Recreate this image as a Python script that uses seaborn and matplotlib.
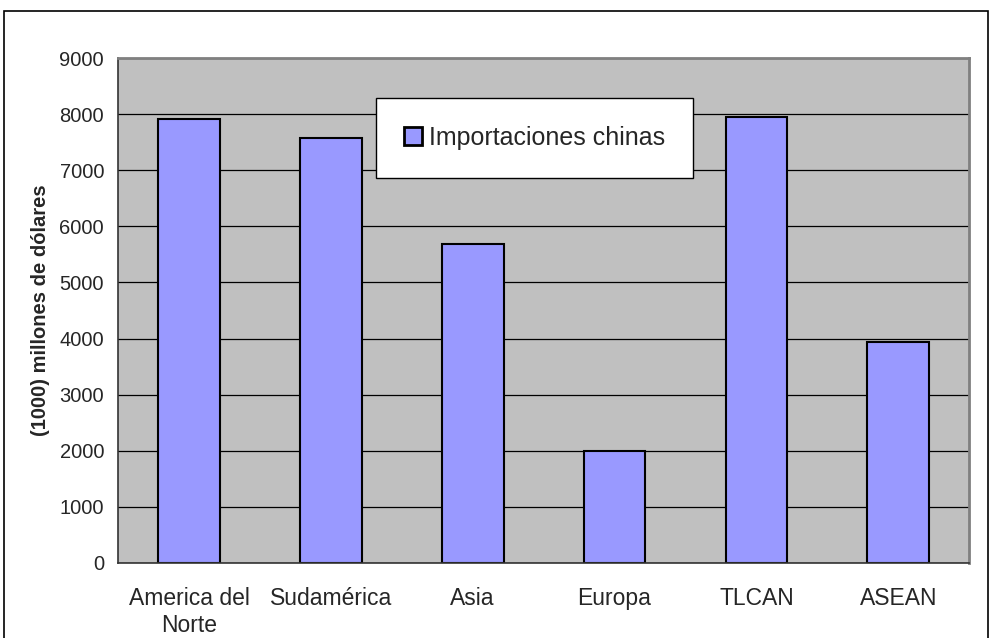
import seaborn as sns
import matplotlib.pyplot as plt
import pandas as pd
from matplotlib.patches import Rectangle

regiones = ['America del\nNorte', 'Sudamérica', 'Asia', 'Europa', 'TLCAN', 'ASEAN']
importaciones = [7905, 7567, 5680, 2000, 7952, 3930]
serie = 'Importaciones chinas'

df = pd.DataFrame({'region': regiones, 'valor': importaciones, 'serie': serie})

sns.set_style('white')
plt.rcParams['font.family'] = ['Liberation Sans', 'DejaVu Sans']

fig = plt.figure(figsize=(9.9, 6.38), dpi=100)
ax = fig.add_axes([0.1192, 0.1176, 0.8598, 0.7914])

sns.barplot(data=df, x='region', y='valor', hue='serie', palette=['#9999FF'],
            width=0.435, edgecolor='black', linewidth=1.5, saturation=1, ax=ax)

ax.set_facecolor('#C0C0C0')
ax.set_ylim(0, 9000)
ax.set_xlim(-0.5, 5.5)
ax.set_yticks(range(0, 9001, 1000))
ax.yaxis.grid(True, color='black', linewidth=0.9)
ax.set_axisbelow(True)
ax.set_xticks([i - 0.5 for i in range(7)], minor=True)
ax.set_xticks(range(6))
ax.set_xticklabels(regiones, fontsize=16.5, linespacing=1.25)
ax.tick_params(axis='x', which='major', length=0, pad=17)
ax.tick_params(axis='x', which='minor', length=6, width=1, color='#333333')
ax.tick_params(axis='y', length=6, width=1, color='#333333', labelsize=14.5, pad=4)
ax.set_xlabel('')
ax.set_ylabel('(1000) millones de dólares', fontsize=14.5, fontweight='bold', labelpad=7)
for s in ['top', 'right']:
    ax.spines[s].set_color('#808080')
    ax.spines[s].set_linewidth(2)
for s in ['left', 'bottom']:
    ax.spines[s].set_color('#333333')
    ax.spines[s].set_linewidth(1.2)

leg = ax.legend(loc='upper left', bbox_to_anchor=(0.303, 0.921), fontsize=18,
                frameon=True, fancybox=False, edgecolor='black', framealpha=1,
                borderpad=1.12, handlelength=0.72, handleheight=0.72,
                handletextpad=0.28, borderaxespad=0)
leg.get_frame().set_linewidth(1)
for h in leg.legend_handles:
    h.set_linewidth(2)

fig.patches.append(Rectangle((0.004, -0.02), 0.994, 1.003, transform=fig.transFigure,
                             fill=False, edgecolor='black', linewidth=1.2))

fig.savefig('out.png', dpi=100)
